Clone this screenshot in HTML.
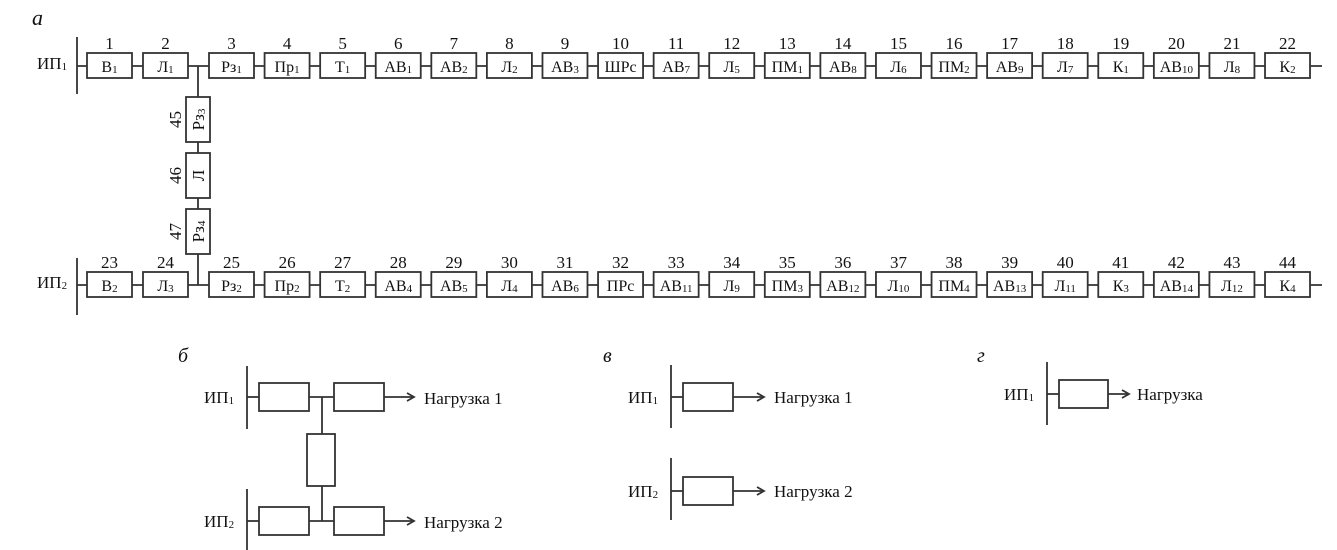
<!DOCTYPE html>
<html><head><meta charset="utf-8"><style>
html,body{margin:0;padding:0;background:#fff;}
svg{display:block;font-family:"Liberation Serif",serif;}
text{fill:#111;}
</style></head><body>
<svg id="s" width="1337" height="550" viewBox="0 0 1337 550" xmlns="http://www.w3.org/2000/svg">
<g stroke="#333" stroke-width="1.8" fill="none" id="g"></g>
<g id="t" font-size="16"></g>
</svg>
<script>
(function(){
var g=document.getElementById('g'),t=document.getElementById('t');
var NS='http://www.w3.org/2000/svg';
function el(p,tag,a,txt){var e=document.createElementNS(NS,tag);for(var k in a)e.setAttribute(k,a[k]);if(txt!=null)e.textContent=txt;p.appendChild(e);return e;}
function line(x1,y1,x2,y2){el(g,'line',{x1:x1,y1:y1,x2:x2,y2:y2});}
function rect(x,y,w,h){el(g,'rect',{x:x,y:y,width:w,height:h,fill:'#fff'});}
function lab(x,y,main,sub,anchor,size){var e=el(t,'text',{x:x,y:y,'text-anchor':anchor||'middle','font-size':size||16});
 el(e,'tspan',{},main);if(sub)el(e,'tspan',{'font-size':11,dy:1},sub);return e;}
function arrow(x1,x2,y){line(x1,y,x2,y);el(g,'path',{d:'M'+(x2-7)+' '+(y-4)+' L'+x2+' '+y+' L'+(x2-7)+' '+(y+4)});}
el(t,'text',{x:32,y:25,'font-size':22,'font-style':'italic'},'а');
var topL=[['В','1'],['Л','1'],['Рз','1'],['Пр','1'],['Т','1'],['АВ','1'],['АВ','2'],['Л','2'],['АВ','3'],['ШРс',''],['АВ','7'],['Л','5'],['ПМ','1'],['АВ','8'],['Л','6'],['ПМ','2'],['АВ','9'],['Л','7'],['К','1'],['АВ','10'],['Л','8'],['К','2']];
var botL=[['В','2'],['Л','3'],['Рз','2'],['Пр','2'],['Т','2'],['АВ','4'],['АВ','5'],['Л','4'],['АВ','6'],['ПРс',''],['АВ','11'],['Л','9'],['ПМ','3'],['АВ','12'],['Л','10'],['ПМ','4'],['АВ','13'],['Л','11'],['К','3'],['АВ','14'],['Л','12'],['К','4']];
function bx(i){return i==0?87:i==1?143:209+(i-2)*55.58;}
function row(y,bus1,bus2,list,n0,ip){
 line(77,bus1,77,bus2);line(77,y,1322,y);
 for(var i=0;i<22;i++){var x=bx(i);rect(x,y-13,45,25);lab(x+22.5,y+6,list[i][0],list[i][1],'middle',16);
  el(t,'text',{x:x+22.5,y:y-17,'text-anchor':'middle','font-size':17},String(n0+i));}
 lab(37,y+3,'ИП',ip,'start',17);
}
line(198,66,198,285);
row(66,37,94,topL,1,'1');
row(285,258,315,botL,23,'2');
var vb=[[97,'Рз','3','45'],[153,'Л','','46'],[209,'Рз','4','47']];
vb.forEach(function(v){rect(186,v[0],24,45);
 var cx=198,cy=v[0]+22.5;
 var e=lab(0,0,v[1],v[2],'middle',17);e.setAttribute('transform','translate('+(cx+6)+','+cy+') rotate(-90)');
 el(t,'text',{'text-anchor':'middle','font-size':17,transform:'translate(181,'+cy+') rotate(-90)'},v[3]);});
el(t,'text',{x:178,y:362,'font-size':20,'font-style':'italic'},'б');
line(247,366,247,429);line(247,489,247,550);
line(247,397,259,397);rect(259,383,50,28);line(309,397,334,397);rect(334,383,50,28);arrow(384,414,397);
line(247,521,259,521);rect(259,507,50,28);line(309,521,334,521);rect(334,507,50,28);arrow(384,414,521);
line(322,397,322,521);rect(307,434,28,52);
lab(204,403,'ИП','1','start',17);lab(204,527,'ИП','2','start',17);
el(t,'text',{x:424,y:404,'font-size':17},'Нагрузка 1');el(t,'text',{x:424,y:528,'font-size':17},'Нагрузка 2');
el(t,'text',{x:603,y:362,'font-size':20,'font-style':'italic'},'в');
line(671,365,671,428);line(671,458,671,520);
line(671,397,683,397);rect(683,383,50,28);arrow(733,764,397);
line(671,491,683,491);rect(683,477,50,28);arrow(733,764,491);
lab(628,403,'ИП','1','start',17);lab(628,497,'ИП','2','start',17);
el(t,'text',{x:774,y:403,'font-size':17},'Нагрузка 1');el(t,'text',{x:774,y:497,'font-size':17},'Нагрузка 2');
el(t,'text',{x:977,y:362,'font-size':20,'font-style':'italic'},'г');
line(1047,362,1047,425);line(1047,394,1059,394);rect(1059,380,49,28);arrow(1108,1129,394);
lab(1004,400,'ИП','1','start',17);el(t,'text',{x:1137,y:400,'font-size':17},'Нагрузка');
})();
</script>
</body></html>
